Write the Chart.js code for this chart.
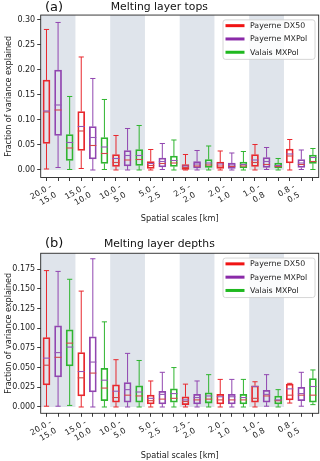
<!DOCTYPE html>
<html>
<head>
<meta charset="utf-8">
<script src="https://cdn.jsdelivr.net/npm/chart.js@4"></script>
<style>
  html, body { margin: 0; padding: 0; background: #fff; }
  #wrap { position: relative; width: 320px; height: 461px; }
  canvas { position: absolute; left: 0; }
</style>
</head>
<body>
<div id="wrap">
  <canvas id="topsChart" width="320" height="226" style="top:0"></canvas>
  <canvas id="depthsChart" width="320" height="235" style="top:226px"></canvas>
</div>
<script>
const scaleLabels = [["20.0 -", "15.0"], ["15.0 -", "10.0"], ["10.0 -", "5.0"], ["5.0 -", "2.5"],
                     ["2.5 -", "2.0"], ["2.0 -", "1.0"], ["1.0 -", "0.8"], ["0.8 -", "0.5"]];
const seriesNames = ["Payerne DX50", "Payerne MXPol", "Valais MXPol"];
const shadedGroups = [0, 2, 4, 6];

// each row: [whisker low, q1, median, mean, q3, whisker high]
const topsDX50 = [
  [0.002, 0.053, 0.116, 0.118, 0.180, 0.281],
  [0.003, 0.039, 0.078, 0.087, 0.117, 0.226],
  [0.000, 0.007, 0.015, 0.023, 0.031, 0.069],
  [0.000, 0.003, 0.009, 0.013, 0.017, 0.041],
  [0.000, 0.001, 0.005, 0.008, 0.011, 0.031],
  [0.000, 0.003, 0.008, 0.012, 0.016, 0.038],
  [0.000, 0.007, 0.015, 0.020, 0.031, 0.051],
  [0.000, 0.014, 0.028, 0.032, 0.042, 0.061]
];
const topsMXPol = [
  [0.005, 0.069, 0.120, 0.130, 0.200, 0.295],
  [0.000, 0.022, 0.049, 0.065, 0.087, 0.183],
  [0.000, 0.008, 0.020, 0.029, 0.039, 0.083],
  [0.001, 0.006, 0.013, 0.017, 0.024, 0.053],
  [0.000, 0.004, 0.008, 0.012, 0.017, 0.039],
  [0.000, 0.003, 0.007, 0.010, 0.014, 0.034],
  [0.001, 0.005, 0.011, 0.017, 0.025, 0.045],
  [0.001, 0.005, 0.011, 0.014, 0.021, 0.040]
];
const topsValais = [
  [0.001, 0.019, 0.044, 0.055, 0.071, 0.147],
  [0.001, 0.013, 0.033, 0.046, 0.065, 0.141],
  [0.000, 0.009, 0.021, 0.029, 0.041, 0.089],
  [0.000, 0.007, 0.014, 0.019, 0.028, 0.060],
  [0.000, 0.005, 0.010, 0.014, 0.021, 0.048],
  [0.000, 0.004, 0.008, 0.011, 0.016, 0.037],
  [0.000, 0.004, 0.007, 0.009, 0.014, 0.023],
  [0.001, 0.013, 0.017, 0.025, 0.030, 0.043]
];

const depthsDX50 = [
  [0.001, 0.028, 0.053, 0.062, 0.088, 0.173],
  [0.000, 0.014, 0.037, 0.045, 0.069, 0.147],
  [0.000, 0.006, 0.012, 0.020, 0.028, 0.060],
  [0.000, 0.004, 0.008, 0.011, 0.015, 0.033],
  [0.000, 0.003, 0.007, 0.009, 0.013, 0.029],
  [0.000, 0.004, 0.009, 0.013, 0.016, 0.035],
  [0.000, 0.006, 0.011, 0.026, 0.027, 0.032],
  [0.005, 0.009, 0.015, 0.023, 0.029, 0.030]
];
const depthsMXPol = [
  [0.001, 0.038, 0.063, 0.069, 0.103, 0.172],
  [0.000, 0.019, 0.043, 0.057, 0.089, 0.188],
  [0.000, 0.006, 0.015, 0.022, 0.031, 0.068],
  [0.000, 0.004, 0.010, 0.016, 0.020, 0.044],
  [0.000, 0.004, 0.009, 0.012, 0.016, 0.033],
  [0.000, 0.004, 0.009, 0.013, 0.016, 0.035],
  [0.001, 0.006, 0.014, 0.016, 0.021, 0.041],
  [0.001, 0.008, 0.015, 0.017, 0.025, 0.044]
];
const depthsValais = [
  [0.002, 0.052, 0.081, 0.076, 0.098, 0.162],
  [0.000, 0.008, 0.024, 0.034, 0.049, 0.108],
  [0.000, 0.006, 0.014, 0.019, 0.027, 0.059],
  [0.000, 0.006, 0.011, 0.017, 0.023, 0.050],
  [0.000, 0.005, 0.010, 0.014, 0.018, 0.041],
  [0.000, 0.004, 0.009, 0.012, 0.016, 0.035],
  [0.000, 0.004, 0.008, 0.009, 0.014, 0.022],
  [0.003, 0.006, 0.015, 0.026, 0.036, 0.047]
];

const boxColors = ['#e8282e', '#9146b0', '#2fb52f'];
const legendColors = ['#f01414', '#8a2aa8', '#1fb81f'];
const medianColor = '#d2474a';
const meanColor = '#9457b5';
const spineColor = '#262626';
const FONT = "'DejaVu Sans', sans-serif";

// 3 boxes per scale group, label on the middle one
const categories = [];
scaleLabels.forEach(l => { categories.push('', l, ''); });

function buildDatasets(series) {
  return series.map((rows, s) => {
    const data = categories.map(() => null);
    const stats = categories.map(() => null);
    rows.forEach((r, g) => {
      data[g * 3 + s] = [r[1], r[4]];
      stats[g * 3 + s] = r;
    });
    return {
      label: seriesNames[s],
      data: data,
      stats: stats,
      grouped: false,
      barThickness: 7,
      borderColor: boxColors[s],
      backgroundColor: 'rgba(0,0,0,0)',
      borderWidth: 1.1,
      borderSkipped: false
    };
  });
}

const boxPlot = {
  id: 'boxPlot',
  beforeDatasetsDraw(chart) {
    const {ctx, chartArea: a, scales: {x, y}} = chart;
    const step = x.getPixelForValue(1) - x.getPixelForValue(0);
    ctx.save();
    ctx.fillStyle = '#dfe4eb';
    shadedGroups.forEach(g => {
      const x0 = x.getPixelForValue(g * 3) - step / 2;
      const x1 = x.getPixelForValue(g * 3 + 2) + step / 2;
      ctx.fillRect(x0, a.top, x1 - x0, y.getPixelForValue(0) - a.top);
    });
    ctx.restore();
  },
  afterDatasetsDraw(chart) {
    const {ctx, scales: {y}} = chart;
    ctx.save();
    chart.data.datasets.forEach((ds, di) => {
      const meta = chart.getDatasetMeta(di);
      ds.stats.forEach((st, i) => {
        if (!st) return;
        const el = meta.data[i];
        const cx = el.x, half = el.width / 2, cap = 2.6;
        ctx.strokeStyle = ds.borderColor;
        ctx.lineWidth = 1;
        ctx.beginPath();
        ctx.moveTo(cx, y.getPixelForValue(st[4]));
        ctx.lineTo(cx, y.getPixelForValue(st[5]));
        ctx.moveTo(cx, y.getPixelForValue(st[1]));
        ctx.lineTo(cx, y.getPixelForValue(st[0]));
        ctx.moveTo(cx - cap, y.getPixelForValue(st[5]));
        ctx.lineTo(cx + cap, y.getPixelForValue(st[5]));
        ctx.moveTo(cx - cap, y.getPixelForValue(st[0]));
        ctx.lineTo(cx + cap, y.getPixelForValue(st[0]));
        ctx.stroke();
        ctx.lineWidth = 1.1;
        ctx.strokeStyle = medianColor;
        ctx.beginPath();
        ctx.moveTo(cx - half, y.getPixelForValue(st[2]));
        ctx.lineTo(cx + half, y.getPixelForValue(st[2]));
        ctx.stroke();
        ctx.strokeStyle = meanColor;
        ctx.beginPath();
        ctx.moveTo(cx - half, y.getPixelForValue(st[3]));
        ctx.lineTo(cx + half, y.getPixelForValue(st[3]));
        ctx.stroke();
      });
    });
    ctx.restore();
  },
  afterDraw(chart, args, opts) {
    const {ctx, chartArea: a} = chart;
    ctx.save();
    // frame
    ctx.strokeStyle = spineColor;
    ctx.lineWidth = 0.9;
    ctx.strokeRect(a.left, a.top, a.right - a.left, a.bottom - a.top);
    // panel letter
    ctx.fillStyle = '#111';
    ctx.font = '13px ' + FONT;
    ctx.textBaseline = 'middle';
    ctx.fillText(opts.letter, 45, opts.letterY);
    // legend
    const w = 92, h = 39.5;
    const lx = a.right - w - 3.7, ly = a.top + 4.8;
    ctx.fillStyle = 'rgba(255,255,255,0.85)';
    ctx.strokeStyle = '#cccccc';
    ctx.lineWidth = 0.8;
    ctx.beginPath();
    ctx.roundRect(lx, ly, w, h, 2.5);
    ctx.fill();
    ctx.stroke();
    ctx.font = '7.8px ' + FONT;
    seriesNames.forEach((name, i) => {
      const ry = ly + 5.8 + i * 13.3;
      ctx.strokeStyle = legendColors[i];
      ctx.lineWidth = 3;
      ctx.beginPath();
      ctx.moveTo(lx + 2.5, ry);
      ctx.lineTo(lx + 21.5, ry);
      ctx.stroke();
      ctx.fillStyle = '#222';
      ctx.fillText(name, lx + 27, ry + 0.5);
    });
    ctx.restore();
  }
};

function makePanel(id, p) {
  return new Chart(document.getElementById(id), {
    type: 'bar',
    data: { labels: categories, datasets: buildDatasets(p.series) },
    plugins: [boxPlot],
    options: {
      responsive: false,
      animation: false,
      devicePixelRatio: 1,
      layout: { padding: { left: 0, right: 1.3, top: 0, bottom: 0 } },
      plugins: {
        legend: { display: false },
        tooltip: { enabled: false },
        title: {
          display: true,
          text: p.title,
          color: '#111',
          font: { family: FONT, size: 10.8, weight: 'normal' },
          padding: p.titlePad
        },
        boxPlot: { letter: p.letter, letterY: p.letterY }
      },
      scales: {
        x: {
          type: 'category',
          offset: true,
          border: { display: false },
          grid: { offset: false, drawOnChartArea: false, tickLength: 3.5, tickColor: spineColor, tickWidth: 0.9 },
          ticks: {
            autoSkip: false, minRotation: 30, maxRotation: 30, padding: 1, labelOffset: -7,
            color: '#222', font: { family: FONT, size: 8 }
          },
          title: {
            display: true, text: 'Spatial scales [km]', color: '#222',
            font: { family: FONT, size: 8.2 }, padding: { top: 0, bottom: p.xTitlePad }
          },
          afterFit: s => { s.height = p.xHeight; }
        },
        y: {
          type: 'linear',
          min: p.yMin,
          max: p.yMax,
          border: { display: false },
          grid: { drawOnChartArea: false, tickLength: 3.5, tickColor: spineColor, tickWidth: 0.9 },
          ticks: {
            stepSize: p.step, includeBounds: false, padding: 2, color: '#222',
            font: { family: FONT, size: 8 },
            callback: v => v.toFixed(p.digits)
          },
          title: {
            display: true, text: 'Fraction of variance explained', color: '#222',
            font: { family: FONT, size: 8 }, padding: { top: 4, bottom: 0 }
          },
          afterFit: s => { s.width = 40.7; }
        }
      }
    }
  });
}

makePanel('topsChart', {
  series: [topsDX50, topsMXPol, topsValais],
  title: 'Melting layer tops', letter: '(a)', letterY: 7.5,
  titlePad: { top: 0.5, bottom: 1.6 },
  yMin: -0.015, yMax: 0.3098, step: 0.05, digits: 2,
  xHeight: 48.5, xTitlePad: 1.9
});
makePanel('depthsChart', {
  series: [depthsDX50, depthsMXPol, depthsValais],
  title: 'Melting layer depths', letter: '(b)', letterY: 17.5,
  titlePad: { top: 11.5, bottom: 2.8 },
  yMin: -0.008, yMax: 0.195, step: 0.025, digits: 3,
  xHeight: 47.7, xTitlePad: 0
});
</script>
</body>
</html>
